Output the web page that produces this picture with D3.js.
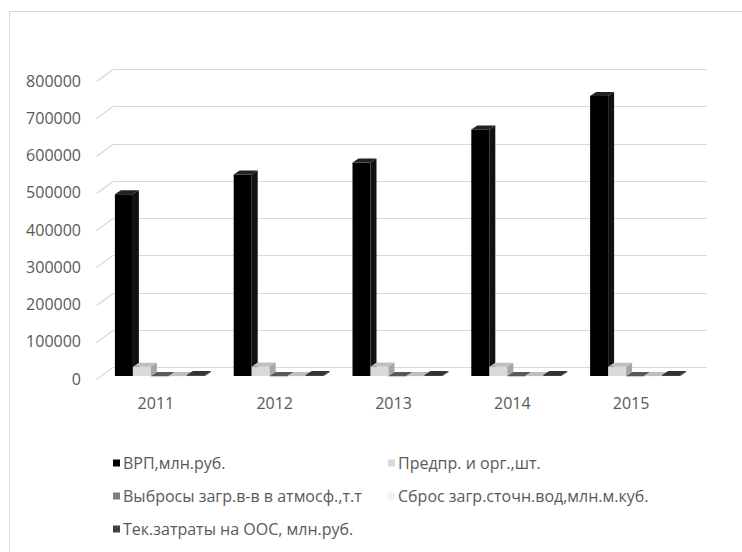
<!DOCTYPE html>
<html>
<head>
<meta charset="utf-8">
<script src="https://cdn.jsdelivr.net/npm/d3@7"></script>
<style>
  body { margin: 0; background: #fff; }
  text { font-family: "Open Sans", "Noto Sans", sans-serif; fill: #595959; }
</style>
</head>
<body>
<div id="chart"></div>
<script>
// данные
const years = ["2011", "2012", "2013", "2014", "2015"];
const seriesNames = [
  "ВРП,млн.руб.",
  "Предпр. и орг.,шт.",
  "Выбросы загр.в-в в атмосф.,т.т",
  "Сброс загр.сточн.вод,млн.м.куб.",
  "Тек.затраты на ООС, млн.руб."
];
const vrp      = [488000, 541000, 573000, 662000, 752000];
const predpr   = [25000, 25500, 25500, 25000, 25000];
const vybrosy  = [300, 300, 300, 300, 300];
const sbros    = [150, 150, 150, 150, 150];
const zatraty  = [2500, 2600, 2700, 2800, 2900];
const yTicks   = [0, 100000, 200000, 300000, 400000, 500000, 600000, 700000, 800000];

const values = [vrp, predpr, vybrosy, sbros, zatraty];

// цвета: лицевая, верх, бок
const colors = [
  { front: "#000000", top: "#222222", side: "#111111", legend: "#000000" },
  { front: "#d9d9d9", top: "#bfbfbf", side: "#a6a6a6", legend: "#d9d9d9" },
  { front: "#7f7f7f", top: "#595959", side: "#595959", legend: "#7f7f7f" },
  { front: "#f2f2f2", top: "#bfbfbf", side: "#bfbfbf", legend: "#f2f2f2" },
  { front: "#404040", top: "#333333", side: "#262626", legend: "#404040" }
];

const width = 742, height = 552;

// задняя стенка и смещение глубины
const backLeft = 113, backRight = 707;
const depthDx = -16.5, depthDy = 12;   // от задней стенки к передней кромке
const barDx = 6, barDy = -4;           // глубина столбика
const barShiftX = 4, barShiftY = -3;   // столбики стоят чуть дальше передней кромки

const svg = d3.select("#chart").append("svg")
  .attr("width", width)
  .attr("height", height);

svg.append("rect")
  .attr("x", 9.5).attr("y", 11.5)
  .attr("width", 760).attr("height", 560)
  .attr("fill", "#fff")
  .attr("stroke", "#d9d9d9");

const y = d3.scaleLinear().domain([0, 800000]).range([367, 69]);

const x = d3.scaleBand()
  .domain(years)
  .range([backLeft + depthDx, backRight + depthDx]);

const xs = d3.scaleBand()
  .domain(d3.range(seriesNames.length))
  .range([0, x.bandwidth()])
  .paddingOuter(0.8);

// сетка
const grid = svg.append("g");
yTicks.forEach(function(t) {
  const yy = Math.round(y(t)) + 0.5;
  grid.append("line")
    .attr("x1", backLeft).attr("x2", backRight)
    .attr("y1", yy).attr("y2", yy)
    .attr("stroke", "#d9d9d9").attr("stroke-width", 1.2);
  grid.append("line")
    .attr("x1", backLeft + depthDx).attr("x2", backLeft)
    .attr("y1", yy + depthDy).attr("y2", yy)
    .attr("stroke", "#d9d9d9").attr("stroke-width", 1.2);
});

// подписи оси Y
svg.append("g").selectAll("text")
  .data(yTicks)
  .enter().append("text")
  .attr("x", 81)
  .attr("y", d => y(d) + depthDy)
  .attr("dy", "0.35em")
  .attr("text-anchor", "end")
  .attr("font-size", 16)
  .text(d => d);

// подписи оси X
svg.append("g").selectAll("text")
  .data(years)
  .enter().append("text")
  .attr("x", d => x(d) + x.bandwidth() / 2)
  .attr("y", 403)
  .attr("dy", "0.35em")
  .attr("text-anchor", "middle")
  .attr("font-size", 16)
  .text(d => d);

// столбики
const base = y(0) + depthDy + barShiftY;
const bars = svg.append("g");
years.forEach(function(yr, i) {
  values.forEach(function(vals, s) {
    const x0 = x(yr) + barShiftX + xs(s);
    const w = xs.bandwidth();
    const h = y(0) - y(vals[i]);
    const top = base - h;
    const c = colors[s];
    bars.append("rect")
      .attr("x", x0).attr("y", top)
      .attr("width", w).attr("height", Math.max(h, 0.5))
      .attr("fill", c.front);
    bars.append("path")
      .attr("d", `M${x0},${top}L${x0 + barDx},${top + barDy}L${x0 + w + barDx},${top + barDy}L${x0 + w},${top}Z`)
      .attr("fill", c.top);
    bars.append("path")
      .attr("d", `M${x0 + w},${top}L${x0 + w + barDx},${top + barDy}L${x0 + w + barDx},${base + barDy}L${x0 + w},${base}Z`)
      .attr("fill", c.side);
  });
});

// легенда
const legendX = [113, 388];
const legendY = [463, 496, 529];
const legend = svg.append("g");
seriesNames.forEach(function(name, s) {
  const lx = legendX[s % 2];
  const ly = legendY[Math.floor(s / 2)];
  legend.append("rect")
    .attr("x", lx).attr("y", ly - 3.5)
    .attr("width", 7).attr("height", 7)
    .attr("fill", colors[s].legend);
  legend.append("text")
    .attr("x", lx + 10)
    .attr("y", ly)
    .attr("dy", "0.35em")
    .attr("font-size", 16)
    .text(name);
});
</script>
</body>
</html>
